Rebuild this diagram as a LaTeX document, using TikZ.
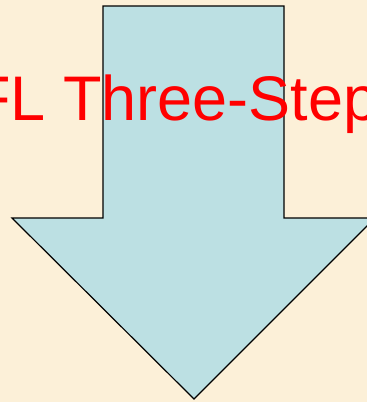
\documentclass[tikz,border=0pt]{standalone}
\usepackage{fontspec}
\setmainfont{Liberation Sans}
\definecolor{parch}{HTML}{FCF0D8}
\definecolor{arrowfill}{HTML}{BCE0E3}
\definecolor{txtred}{HTML}{FF0000}
\tikzset{
  bigarrow/.style={draw=black, line width=1.2pt, fill=arrowfill, line join=miter},
  title/.style={text=txtred, font=\fontsize{63}{63}\selectfont, inner sep=0pt, anchor=base west}
}
\begin{document}
\begin{tikzpicture}[x=1pt,y=-1pt]
\useasboundingbox (0,0) rectangle (367,402);
\fill[parch] (0,0) rectangle (367,402);
\clip (0,0) rectangle (367,402);
\draw[bigarrow] (103,6) -- (284,6) -- (284,218) -- (375,218) -- (194,399) -- (12,218) -- (103,218) -- cycle;
\node[title] (t) at (-28,120) {FL Three-Step};
\end{tikzpicture}
\end{document}
